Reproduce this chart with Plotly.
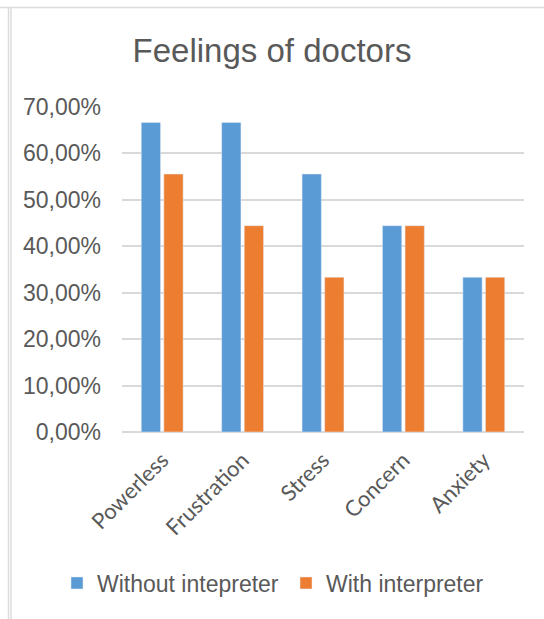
import plotly.graph_objects as go

categories = ["Powerless", "Frustration", "Stress", "Concern", "Anxiety"]
without_interpreter = [0.6667, 0.6667, 0.5556, 0.4444, 0.3333]
with_interpreter = [0.5556, 0.4444, 0.3333, 0.4444, 0.3333]

BLUE = "#5B9BD5"
ORANGE = "#ED7D31"
TEXT = "#595959"
GRID = "#D9D9D9"

W, H = 544, 619
ML, MR, MT, MB = 122, 20, 107, 187
pw, ph = W - ML - MR, H - MT - MB


def px_x(x):
    return (x - ML) / pw


def px_y(y):
    return (H - MB - y) / ph


fig = go.Figure()
fig.add_trace(go.Bar(x=categories, y=without_interpreter, name="Without intepreter",
                     marker_color=BLUE, legend="legend"))
fig.add_trace(go.Bar(x=categories, y=with_interpreter, name="With interpreter",
                     marker_color=ORANGE, legend="legend2"))

# frame lines around the chart area
frame = [
    dict(x0=px_x(0), x1=px_x(W), y0=px_y(7.5), y1=px_y(7.5)),
    dict(x0=px_x(8.5), x1=px_x(8.5), y0=px_y(7.5), y1=px_y(H)),
    dict(x0=px_x(11), x1=px_x(11), y0=px_y(7.5), y1=px_y(H)),
]
shapes = [dict(type="line", xref="paper", yref="paper", line=dict(color="#DCDCDC", width=1.5), **f)
          for f in frame]

legend_font = dict(family="Liberation Sans, Arial", size=23, color=TEXT)

fig.update_layout(
    width=W, height=H,
    margin=dict(l=ML, r=MR, t=MT, b=MB, pad=0, autoexpand=False),
    paper_bgcolor="white", plot_bgcolor="white",
    separators=",.",
    barmode="group", bargap=0.438, bargroupgap=0.146,
    title=dict(text="Feelings of doctors", x=272 / W, xref="container", xanchor="center",
               y=1 - 50 / H, yref="container", yanchor="middle",
               font=dict(family="Liberation Sans, Arial", size=33, color=TEXT)),
    shapes=shapes,
    legend=dict(orientation="h", xref="container", yref="container",
                x=57 / W, xanchor="left", y=1 - 583 / H, yanchor="middle",
                font=legend_font, itemwidth=30),
    legend2=dict(orientation="h", xref="container", yref="container",
                 x=286 / W, xanchor="left", y=1 - 583 / H, yanchor="middle",
                 font=legend_font, itemwidth=30),
    showlegend=True,
)
fig.update_yaxes(range=[0, 0.7], dtick=0.1, tickformat=".2%",
                 showgrid=True, gridcolor=GRID, gridwidth=1.5,
                 zeroline=True, zerolinecolor=GRID, zerolinewidth=1.5,
                 showline=False, ticks="", ticklabelstandoff=20,
                 tickfont=dict(family="Liberation Sans, Arial", size=23, color=TEXT))
fig.update_xaxes(showgrid=False, showline=False, ticks="", tickangle=-45,
                 ticklabelstandoff=10,
                 tickfont=dict(family="Lato, Open Sans", size=22, color=TEXT))

fig.write_html("out.html")
